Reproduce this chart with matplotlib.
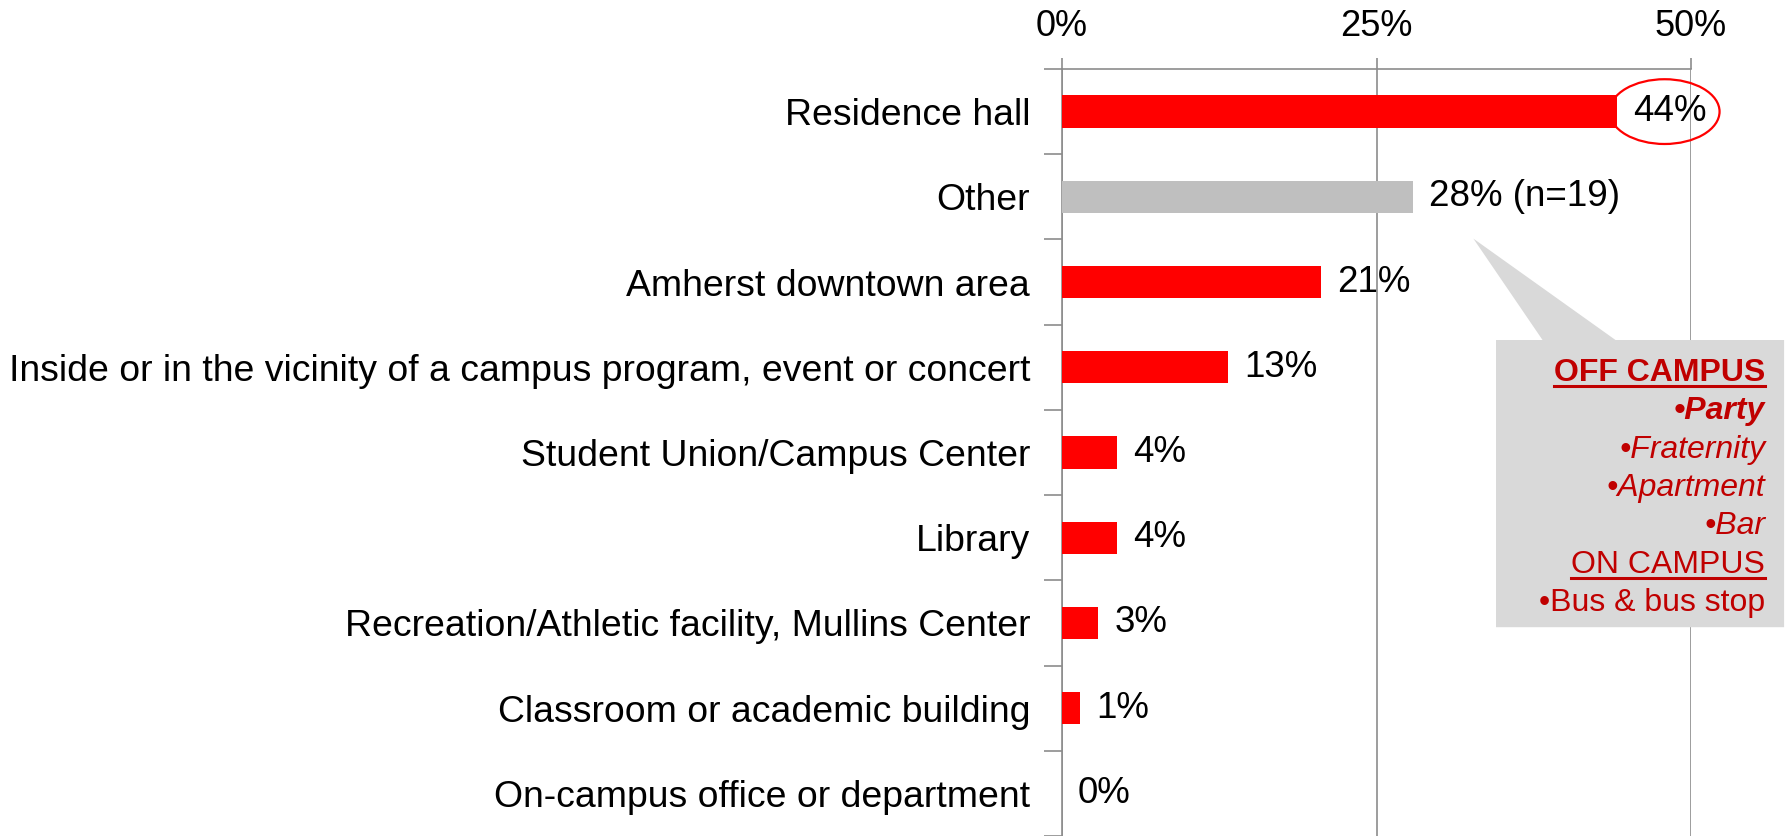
import matplotlib
matplotlib.use("Agg")
import matplotlib.pyplot as plt
from matplotlib.patches import Ellipse, Polygon
from matplotlib.lines import Line2D

plt.rcParams["font.family"] = ["Liberation Sans", "DejaVu Sans"]

categories = [
    "Residence hall",
    "Other",
    "Amherst downtown area",
    "Inside or in the vicinity of a campus program, event or concert",
    "Student Union/Campus Center",
    "Library",
    "Recreation/Athletic facility, Mullins Center",
    "Classroom or academic building",
    "On-campus office or department",
]
values = [44.1, 27.9, 20.6, 13.2, 4.4, 4.4, 2.9, 1.45, 0]
value_labels = ["44%", "28% (n=19)", "21%", "13%", "4%", "4%", "3%", "1%", "0%"]
bar_colors = ["#FF0000", "#BFBFBF"] + ["#FF0000"] * 7
x_ticks = [0, 25, 50]
x_tick_labels = ["0%", "25%", "50%"]

# callout text: (text, weight, style, underline)
callout_lines = [
    ("OFF CAMPUS", "bold", "normal", True),
    ("\u2022Party", "bold", "italic", False),
    ("\u2022Fraternity", "normal", "italic", False),
    ("\u2022Apartment", "normal", "italic", False),
    ("\u2022Bar", "normal", "italic", False),
    ("ON CAMPUS", "normal", "normal", True),
    ("\u2022Bus & bus stop", "normal", "normal", False),
]

RED = "#FF0000"
DARK_RED = "#C00000"
GRID = "#8C8C8C"

W, H = 1789, 836
fig = plt.figure(figsize=(W / 100, H / 100), dpi=100)
ax = fig.add_axes([1062 / W, 0, 629 / W, 767 / H])

ypos = list(range(len(categories)))
ax.barh(ypos, values, height=0.38, color=bar_colors, zorder=3)
ax.set_xlim(0, 50)
ax.set_ylim(len(categories) - 0.5, -0.5)

# x axis on top
ax.xaxis.tick_top()
ax.set_xticks(x_ticks, x_tick_labels)
ax.tick_params(axis="x", length=8, width=1.2, color=GRID, labelsize=26, pad=10)
ax.xaxis.grid(True, color=GRID, linewidth=1.2, zorder=0)

# y axis: labels at centres, tick stubs between categories
ax.set_yticks(ypos, categories)
ax.tick_params(axis="y", which="major", length=0, pad=23, labelsize=26.9)
ax.set_yticks([i - 0.5 for i in range(len(categories) + 1)], minor=True)
ax.tick_params(axis="y", which="minor", length=13, width=1.2, color=GRID)

for side in ["right", "bottom"]:
    ax.spines[side].set_visible(False)
for side in ["left", "top"]:
    ax.spines[side].set_color(GRID)
    ax.spines[side].set_linewidth(1.2)

# value labels
for i, (v, lbl) in enumerate(zip(values, value_labels)):
    ax.annotate(lbl, (v, i), xytext=(11.5, 0), textcoords="offset points",
                va="center", ha="left", fontsize=26.5, annotation_clip=False)

# circle around the top value
ax.add_patch(Ellipse((47.9, 0), 8.74, 0.76, fill=False, edgecolor=RED,
                     linewidth=1.6, clip_on=False, zorder=5))

# callout box pointing at "Other"
box = [(32.7, 1.49), (44.0, 2.68), (57.4, 2.68), (57.4, 6.05),
       (34.5, 6.05), (34.5, 2.68), (38.2, 2.68)]
ax.add_patch(Polygon(box, closed=True, facecolor="#D9D9D9", edgecolor="none",
                     clip_on=False, zorder=4))

texts = []
for k, (txt, weight, style, ul) in enumerate(callout_lines):
    t = ax.text(55.9, 3.16 + k * 0.45, txt, ha="right", va="baseline",
                fontsize=23, fontweight=weight, fontstyle=style,
                color=DARK_RED, clip_on=False, zorder=6)
    texts.append((t, ul))

# underline headings
fig.canvas.draw()
r = fig.canvas.get_renderer()
inv = ax.transData.inverted()
for t, ul in texts:
    if not ul:
        continue
    bb = t.get_window_extent(r)
    base = ax.transData.transform(t.get_position())[1]
    (x0, y0), (x1, _) = inv.transform([(bb.x0, base - 5), (bb.x1, base - 5)])
    ax.add_line(Line2D([x0, x1], [y0, y0], color=DARK_RED, linewidth=2.2,
                       clip_on=False, zorder=6))

fig.savefig("out.png", dpi=100)
